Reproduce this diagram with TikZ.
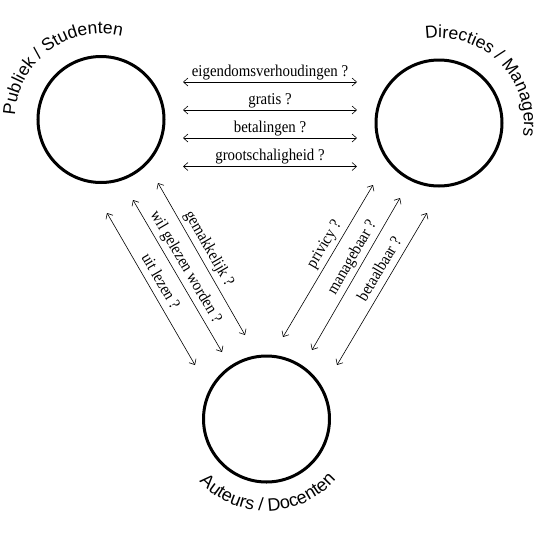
\documentclass[tikz,border=0pt]{standalone}
\usepackage{fontspec}
\setmainfont{Liberation Serif}
\setsansfont{Liberation Sans}
\newfontfamily\lblfont[FakeStretch=0.9]{Liberation Serif}
\usetikzlibrary{arrows.meta,decorations.text}
\begin{document}
\begin{tikzpicture}[x=1pt,y=1pt,
  circ/.style={circle,draw,line width=3pt,minimum size=126pt,inner sep=0pt},
  biarrow/.style={line width=0.6pt,{Straight Barb[length=4.5pt,width=8pt]}-{Straight Barb[length=4.5pt,width=8pt]}},
  lbl/.style={font=\lblfont\fontsize{16.5}{16.5}\selectfont,inner sep=2pt},
  dlbl/.style={font=\lblfont\fontsize{16.5}{16.5}\selectfont,inner sep=3.5pt,text height=11pt,text depth=3.5pt},
  ringtext/.style={decorate,decoration={text along path,text align=center,
     text={|\sffamily\fontsize{17.5}{20}\selectfont|#1}}}
  ]
\useasboundingbox (0,-544) rectangle (543,0);
\node[circ] (L) at (101,-119.5) {};
\node[circ] (R) at (439,-123) {};
\node[circ] (B) at (266.5,-419) {};

% ring labels
\path[ringtext={Publiek / Studenten}] (L.center) ++(180:86) arc[start angle=180,end angle=73,radius=86];
\path[ringtext={Directies / Managers}] (R.center) ++(100:85) arc[start angle=100,end angle=-10,radius=85];
\path[decorate,decoration={text along path,text align=center,
     text={|\sffamily\fontsize{18}{20}\selectfont|Auteurs / Docenten}}]
  (B.center) ++(220:92) arc[start angle=220,end angle=322,radius=92];

% horizontal arrows
\coordinate (h1a) at (183,-82);   \coordinate (h1b) at (357,-82);
\coordinate (h2a) at (183,-110);  \coordinate (h2b) at (357,-110);
\coordinate (h3a) at (183,-138);  \coordinate (h3b) at (357,-138);
\coordinate (h4a) at (183,-166.5);\coordinate (h4b) at (357,-166.5);
\draw[biarrow] (h1a) -- node[lbl,above] (t1) {eigendomsverhoudingen ?} (h1b);
\draw[biarrow] (h2a) -- node[lbl,above] (t2) {gratis ?} (h2b);
\draw[biarrow] (h3a) -- node[lbl,above] (t3) {betalingen ?} (h3b);
\draw[biarrow] (h4a) -- node[lbl,above] (t4) {grootschaligheid ?} (h4b);

% left diagonal arrows
\coordinate (a1a) at (158,-183); \coordinate (a1b) at (245,-335);
\coordinate (a2a) at (133,-200); \coordinate (a2b) at (222,-352);
\coordinate (a3a) at (107,-213); \coordinate (a3b) at (195,-365);
\draw[biarrow] (a1a) -- node[dlbl,pos=0.47,sloped,above] (d1) {gemakkelijk ?} (a1b);
\draw[biarrow] (a2a) -- node[dlbl,pos=0.48,sloped,above] (d2) {wil gelezen worden ?} (a2b);
\draw[biarrow] (a3a) -- node[dlbl,pos=0.49,sloped,above] (d3) {uit lezen ?} (a3b);

% right diagonal arrows
\coordinate (b1a) at (283,-337); \coordinate (b1b) at (373,-185);
\coordinate (b2a) at (312,-350); \coordinate (b2b) at (400,-198);
\coordinate (b3a) at (337,-365); \coordinate (b3b) at (427,-213);
\draw[biarrow] (b1a) -- node[dlbl,pos=0.57,sloped,above] (e1) {privicy ?} (b1b);
\draw[biarrow] (b2a) -- node[dlbl,pos=0.57,sloped,above] (e2) {managebaar ?} (b2b);
\draw[biarrow] (b3a) -- node[dlbl,pos=0.59,sloped,above] (e3) {betaalbaar ?} (b3b);
\end{tikzpicture}
\end{document}
